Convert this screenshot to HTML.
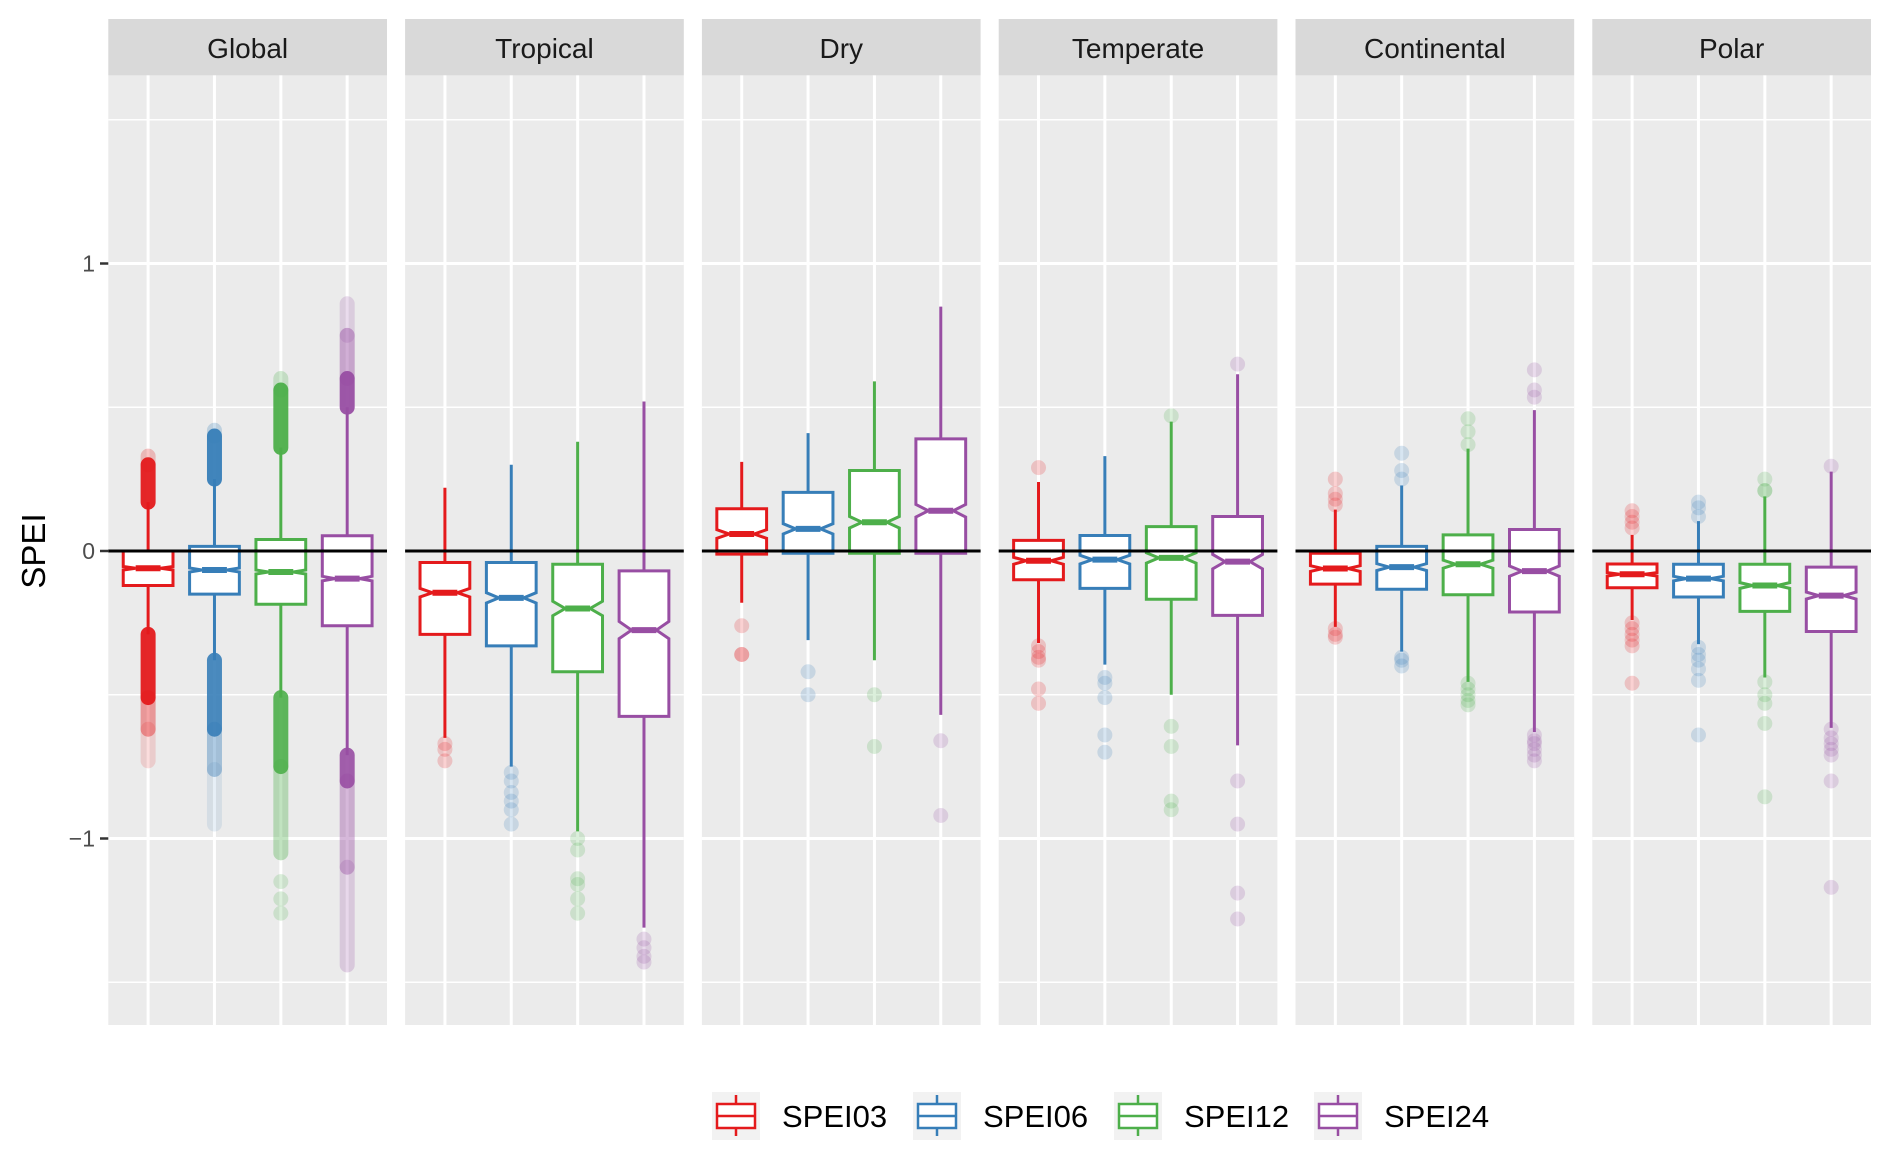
<!DOCTYPE html>
<html><head><meta charset="utf-8"><style>
html,body{margin:0;padding:0;background:#fff;}
svg{display:block;font-family:"Liberation Sans",Arial,sans-serif;}
</style></head><body>
<svg id="chart" width="1892" height="1165" viewBox="0 0 1892 1165" xmlns="http://www.w3.org/2000/svg"></svg>
<script>
const panels = ["Global","Tropical","Dry","Temperate","Continental","Polar"];
const series = ["SPEI03","SPEI06","SPEI12","SPEI24"];
const colors = ["#E41A1C","#377EB8","#4DAF4A","#984EA3"];
const yTicks = [1,0,-1];
const yTickLabels = ["1","0","\u22121"];
const yMinor = [1.5,0.5,-0.5,-1.5];
// per panel, per series: [lowerWhisker, q1, median, q3, upperWhisker]
const boxStats = [
 [[-0.29,-0.12,-0.06,0.0,0.17],[-0.38,-0.15,-0.066,0.016,0.25],[-0.51,-0.185,-0.073,0.04,0.36],[-0.71,-0.26,-0.096,0.053,0.50]],
 [[-0.65,-0.29,-0.145,-0.04,0.22],[-0.75,-0.33,-0.163,-0.04,0.30],[-0.975,-0.42,-0.20,-0.046,0.38],[-1.31,-0.575,-0.275,-0.069,0.52]],
 [[-0.18,-0.011,0.059,0.147,0.31],[-0.31,-0.008,0.077,0.204,0.41],[-0.38,-0.008,0.10,0.28,0.59],[-0.57,-0.008,0.14,0.39,0.85]],
 [[-0.32,-0.10,-0.034,0.037,0.24],[-0.395,-0.13,-0.03,0.054,0.33],[-0.50,-0.168,-0.024,0.085,0.45],[-0.676,-0.224,-0.037,0.12,0.615]],
 [[-0.264,-0.115,-0.061,-0.008,0.144],[-0.35,-0.133,-0.056,0.016,0.228],[-0.455,-0.152,-0.046,0.056,0.356],[-0.63,-0.212,-0.07,0.075,0.49]],
 [[-0.24,-0.128,-0.081,-0.045,0.056],[-0.324,-0.16,-0.096,-0.046,0.104],[-0.44,-0.21,-0.12,-0.046,0.19],[-0.615,-0.28,-0.155,-0.056,0.276]]
];
const notchHalf = [
 [0.006,0.007,0.007,0.008],[0.015,0.018,0.025,0.03],[0.015,0.018,0.02,0.022],
 [0.012,0.015,0.018,0.025],[0.01,0.012,0.014,0.018],[0.006,0.008,0.01,0.012]
];
// individual faint outliers
const outlierPoints = [
 [[],[],[-1.15,-1.21,-1.26],[]],
 [[-0.67,-0.69,-0.73],[-0.77,-0.80,-0.84,-0.87,-0.90,-0.95],[-1.0,-1.04,-1.14,-1.16,-1.21,-1.26],[-1.35,-1.38,-1.41,-1.43]],
 [[-0.26,-0.36,-0.36],[-0.42,-0.50],[-0.50,-0.68],[-0.66,-0.92]],
 [[0.29,-0.33,-0.35,-0.37,-0.38,-0.48,-0.53],[-0.44,-0.46,-0.51,-0.64,-0.70],[0.47,-0.61,-0.68,-0.87,-0.90],[0.65,-0.80,-0.95,-1.19,-1.28]],
 [[0.25,0.20,0.18,0.16,-0.27,-0.29,-0.30],[0.34,0.28,0.25,-0.37,-0.38,-0.40],[0.46,0.415,0.37,-0.46,-0.48,-0.50,-0.52,-0.535],[0.63,0.56,0.535,-0.64,-0.66,-0.67,-0.69,-0.71,-0.73]],
 [[0.14,0.12,0.10,0.08,-0.25,-0.27,-0.29,-0.31,-0.33,-0.46],[0.17,0.15,0.12,-0.335,-0.36,-0.38,-0.41,-0.45,-0.64],[0.25,0.21,0.21,-0.455,-0.50,-0.53,-0.60,-0.855],[0.295,-0.62,-0.65,-0.67,-0.69,-0.71,-0.80,-1.17]]
];
// dense outlier clouds: [lo, hi, opacity]
const outlierBands = [
 [[[0.17,0.30,0.95],[0.30,0.33,0.25],[-0.51,-0.29,0.95],[-0.62,-0.51,0.4],[-0.73,-0.62,0.15]],
  [[0.25,0.40,0.95],[0.40,0.42,0.25],[-0.62,-0.38,0.9],[-0.76,-0.62,0.4],[-0.95,-0.76,0.12]],
  [[0.36,0.56,0.95],[0.56,0.60,0.25],[-0.75,-0.51,0.9],[-1.05,-0.75,0.35]],
  [[0.50,0.60,0.95],[0.60,0.75,0.45],[0.75,0.86,0.2],[-0.80,-0.71,0.9],[-1.1,-0.80,0.4],[-1.44,-1.1,0.22]]],
 [[],[],[],[]],[[],[],[],[]],[[],[],[],[]],[[],[],[],[]],[[],[],[],[]]
];

const svg = document.getElementById('chart');
const NS = 'http://www.w3.org/2000/svg';
function mk(tag, attrs, parent){ const e=document.createElementNS(NS,tag); for(const k in attrs) e.setAttribute(k,attrs[k]); (parent||svg).appendChild(e); return e; }

const panelLeft0 = 108.3, panelW = 278.7, panelStep = 296.8;
const plotTop = 75.4, plotBot = 1025, stripTop = 19;
const catUnit = panelW / 4.2;
function yScale(v){ return 551 - 287.5 * v; }
function xScale(p, i){ return panelLeft0 + p*panelStep + (i + 0.6) * catUnit; }
const hw = 0.375 * catUnit, nw = hw / 2;

panels.forEach((name, p) => {
  const left = panelLeft0 + p*panelStep;
  const g = mk('g', {});
  
  
  const strip = mk('rect', {x:left, y:stripTop, width:panelW, height:plotTop-stripTop, fill:'#D9D9D9'}, g);
  
  
  const st = mk('text', {x:left+panelW/2, y:58, 'text-anchor':'middle', 'font-size':28, fill:'#1A1A1A'}, g);
  st.textContent = name;
  
  
  const bg = mk('rect', {x:left, y:plotTop, width:panelW, height:plotBot-plotTop, fill:'#EBEBEB'}, g);
  
  
  yMinor.forEach(v => {
    const l = mk('line', {x1:left, x2:left+panelW, y1:yScale(v), y2:yScale(v), stroke:'#fff', 'stroke-width':1.6}, g);
    
    
  });
  yTicks.forEach(v => {
    const l = mk('line', {x1:left, x2:left+panelW, y1:yScale(v), y2:yScale(v), stroke:'#fff', 'stroke-width':3}, g);
    
    
  });
  series.forEach((s, i) => {
    const l = mk('line', {x1:xScale(p,i), x2:xScale(p,i), y1:plotTop, y2:plotBot, stroke:'#fff', 'stroke-width':3}, g);
    
    
  });
  series.forEach((s, i) => {
    const x = xScale(p,i), c = colors[i];
    const [lw, q1, med, q3, uw] = boxStats[p][i];
    const n = notchHalf[p][i];
    const bg2 = mk('g', {}, g);
    
    
    outlierBands[p][i].forEach(b => {
      const band = mk('line', {x1:x, x2:x, y1:yScale(b[1]), y2:yScale(b[0]), stroke:c, 'stroke-width':15, 'stroke-linecap':'round', 'stroke-opacity':b[2]}, bg2);
      
      
    });
    outlierPoints[p][i].forEach(v => {
      const pt = mk('circle', {cx:x, cy:yScale(v), r:7.5, fill:c, 'fill-opacity':0.2}, bg2);
      
      
    });
    const wu = mk('line', {x1:x, x2:x, y1:yScale(q3), y2:yScale(uw), stroke:c, 'stroke-width':3}, bg2);
    
    
    const wl = mk('line', {x1:x, x2:x, y1:yScale(q1), y2:yScale(lw), stroke:c, 'stroke-width':3}, bg2);
    
    
    const yq3 = yScale(q3), yq1 = yScale(q1), ym = yScale(med), yn1 = yScale(med+n), yn2 = yScale(med-n);
    const d = `M${x-hw},${yq3} L${x+hw},${yq3} L${x+hw},${yn1} L${x+nw},${ym} L${x+hw},${yn2} L${x+hw},${yq1} L${x-hw},${yq1} L${x-hw},${yn2} L${x-nw},${ym} L${x-hw},${yn1} Z`;
    const box = mk('path', {d:d, fill:'#fff', stroke:c, 'stroke-width':3, 'stroke-linejoin':'miter'}, bg2);
    
    
    const ml = mk('line', {x1:x-nw, x2:x+nw, y1:ym, y2:ym, stroke:c, 'stroke-width':6}, bg2);
    
    
  });
  const zl = mk('line', {x1:left, x2:left+panelW, y1:yScale(0), y2:yScale(0), stroke:'#000', 'stroke-width':3}, g);
  
  
});

// y axis
yTicks.forEach((v, k) => {
  const t = mk('line', {x1:100, x2:108.3, y1:yScale(v), y2:yScale(v), stroke:'#333', 'stroke-width':2.5});
  
  
  const tl = mk('text', {x:95, y:yScale(v)+8, 'text-anchor':'end', 'font-size':23, fill:'#4D4D4D'});
  tl.textContent = yTickLabels[k];
  
  
});
const yt = mk('text', {x:0, y:0, 'text-anchor':'middle', 'font-size':33, fill:'#000', transform:'translate(45,551) rotate(-90)'});
yt.textContent = 'SPEI';



// legend
const legendX = [712, 913, 1114, 1314];
series.forEach((s, i) => {
  const lg = mk('g', {});
  
  
  const x0 = legendX[i], y0 = 1092, c = colors[i];
  mk('rect', {x:x0, y:y0, width:48, height:48, fill:'#F2F2F2'}, lg);
  mk('line', {x1:x0+24, x2:x0+24, y1:y0+3, y2:y0+44, stroke:c, 'stroke-width':2.5}, lg);
  mk('rect', {x:x0+5, y:y0+12, width:38, height:24, fill:'#fff', stroke:c, 'stroke-width':2.5}, lg);
  mk('line', {x1:x0+5, x2:x0+43, y1:y0+24, y2:y0+24, stroke:c, 'stroke-width':2.5}, lg);
  const tx = mk('text', {x:x0+70, y:y0+35, 'font-size':31, fill:'#000'}, lg);
  tx.textContent = s;
});
</script>
</body></html>
